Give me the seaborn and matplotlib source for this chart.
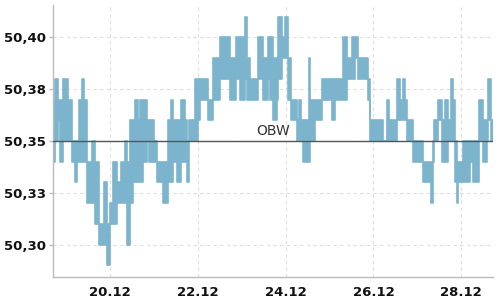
import numpy as np
import pandas as pd
import matplotlib
matplotlib.use("Agg")
import matplotlib.pyplot as plt
import matplotlib.dates as mdates
from matplotlib.ticker import MultipleLocator, FuncFormatter
import seaborn as sns

# ---- data ----
START = "2023-12-18"
# start of each time segment, hours after START
HOURS = [16.8, 17.9, 19.3, 20.7, 22.0, 25.0, 27.0, 28.9, 30.0, 31.1,
         32.7, 33.8, 35.4, 37.9, 39.8, 42.0, 44.7, 46.1, 48.0, 49.6,
         51.6, 54.0, 56.2, 57.3, 58.7, 60.6, 61.9, 63.3, 64.4, 66.0,
         68.0, 69.3, 72.1, 73.7, 77.0, 79.7, 81.1, 82.4, 84.6, 86.8,
         89.0, 90.1, 91.2, 94.5, 96.1, 97.2, 101.6, 104.3, 108.1, 113.6,
         116.9, 119.1, 121.8, 122.9, 124.5, 128.9, 131.6, 134.4, 135.5, 137.1,
         139.3, 140.1, 142.0, 143.7, 145.3, 147.0, 150.2, 151.3, 152.4, 153.5,
         156.8, 157.6, 160.1, 163.9, 169.4, 171.0, 175.4, 177.6, 180.3, 181.9,
         183.6, 189.0, 190.1, 197.2, 199.4, 200.5, 204.9, 206.5, 208.2, 209.3,
         210.4, 213.7, 219.1, 223.5, 224.6, 225.1, 227.3, 229.5, 231.1, 232.8,
         234.4, 235.5, 236.6, 237.7, 238.5, 241.0, 244.8, 246.5, 249.7, 251.9,
         254.1, 254.7, 256.3]
END_HOUR = 257.4
LOW = [50.34, 50.35, 50.36, 50.34, 50.35, 50.35, 50.34, 50.33, 50.34, 50.34,
       50.34, 50.34, 50.32, 50.32, 50.31, 50.30, 50.30, 50.29, 50.31, 50.31,
       50.32, 50.32, 50.32, 50.30, 50.32, 50.33, 50.33, 50.33, 50.33, 50.34,
       50.35, 50.34, 50.34, 50.33, 50.32, 50.33, 50.33, 50.34, 50.33, 50.34,
       50.34, 50.33, 50.35, 50.35, 50.36, 50.37, 50.36, 50.37, 50.38, 50.37,
       50.38, 50.37, 50.38, 50.37, 50.37, 50.38, 50.37, 50.38, 50.37, 50.36,
       50.37, 50.38, 50.39, 50.39, 50.37, 50.36, 50.35, 50.35, 50.35, 50.34,
       50.34, 50.35, 50.36, 50.37, 50.36, 50.37, 50.37, 50.38, 50.38, 50.39,
       50.38, 50.37, 50.35, 50.35, 50.35, 50.35, 50.36, 50.36, 50.36, 50.36,
       50.35, 50.34, 50.33, 50.32, 50.34, 50.35, 50.36, 50.34, 50.34, 50.35,
       50.35, 50.35, 50.33, 50.32, 50.33, 50.33, 50.34, 50.33, 50.35, 50.34,
       50.35, 50.36, 50.35]
HIGH = [50.37, 50.38, 50.37, 50.37, 50.38, 50.37, 50.35, 50.35, 50.35, 50.37,
        50.38, 50.37, 50.34, 50.35, 50.34, 50.31, 50.33, 50.31, 50.32, 50.34,
        50.33, 50.34, 50.35, 50.34, 50.36, 50.36, 50.37, 50.36, 50.37, 50.37,
        50.36, 50.36, 50.35, 50.34, 50.34, 50.36, 50.37, 50.36, 50.36, 50.37,
        50.36, 50.35, 50.36, 50.38, 50.38, 50.38, 50.37, 50.39, 50.40, 50.39,
        50.40, 50.40, 50.41, 50.39, 50.38, 50.40, 50.39, 50.40, 50.40, 50.39,
        50.38, 50.41, 50.40, 50.41, 50.39, 50.37, 50.36, 50.37, 50.36, 50.36,
        50.39, 50.37, 50.37, 50.38, 50.38, 50.38, 50.40, 50.39, 50.40, 50.40,
        50.39, 50.38, 50.36, 50.35, 50.37, 50.36, 50.38, 50.37, 50.38, 50.37,
        50.36, 50.35, 50.34, 50.34, 50.35, 50.36, 50.37, 50.36, 50.37, 50.36,
        50.38, 50.37, 50.35, 50.34, 50.34, 50.35, 50.35, 50.35, 50.37, 50.36,
        50.36, 50.38, 50.36]
OBW = 50.35
OBW_LABEL = "OBW"
X_TICK_DAYS = [20, 22, 24, 26, 28]
Y_TICK_STEP = 0.025
Y_LIMITS = (50.2843, 50.4157)

# ---- style ----
sns.set_theme(style="white")
plt.rcParams["font.family"] = ["DejaVu Sans"]
plt.rcParams["font.weight"] = "bold"

t = pd.Timestamp(START) + pd.to_timedelta(HOURS + [END_HOUR], unit="h")
df = pd.DataFrame({"t": t, "lo": LOW + [LOW[-1]], "hi": HIGH + [HIGH[-1]]})

fig = plt.figure(figsize=(5, 3), dpi=100)
ax = fig.add_axes([53 / 500, 23 / 300, 440 / 500, 272 / 300])

color = "#7db4cd"
ax.fill_between(df["t"], df["lo"], df["hi"], step="post", color=color,
                linewidth=0, zorder=2)
sns.lineplot(data=df, x="t", y="hi", drawstyle="steps-post", color=color,
             lw=1.2, ax=ax, zorder=2)
sns.lineplot(data=df, x="t", y="lo", drawstyle="steps-post", color=color,
             lw=1.2, ax=ax, zorder=2)

ax.axhline(OBW, color="#555555", lw=1, zorder=3)
ax.annotate(OBW_LABEL, xy=(0.5, OBW), xycoords=("axes fraction", "data"),
            xytext=(0, 2), textcoords="offset points", ha="center", va="bottom",
            fontsize=10, color="#333333", fontweight="normal", zorder=4)

ax.set_xlim(df["t"].iloc[0], df["t"].iloc[-1])
ax.set_ylim(*Y_LIMITS)
ax.xaxis.set_major_locator(mdates.DayLocator(bymonthday=X_TICK_DAYS))
ax.xaxis.set_major_formatter(mdates.DateFormatter("%d.%m"))
ax.yaxis.set_major_locator(MultipleLocator(Y_TICK_STEP))
ax.yaxis.set_major_formatter(FuncFormatter(lambda v, p: f"{v + 1e-9:.2f}".replace(".", ",")))

ax.set_axisbelow(True)
ax.grid(True, color="#dddddd", linestyle=(0, (3, 3)), linewidth=0.8)
ax.set_xlabel("")
ax.set_ylabel("")
sns.despine(ax=ax)
for s in ("left", "bottom"):
    ax.spines[s].set_color("#bbbbbb")
    ax.spines[s].set_linewidth(1)
ax.tick_params(axis="y", length=3, width=1, color="#bbbbbb", pad=2,
               labelsize=9.5, labelcolor="#111111", left=True)
ax.tick_params(axis="x", length=0, pad=6.5, labelsize=9.5, labelcolor="#111111")

fig.savefig("out.png", dpi=100)
